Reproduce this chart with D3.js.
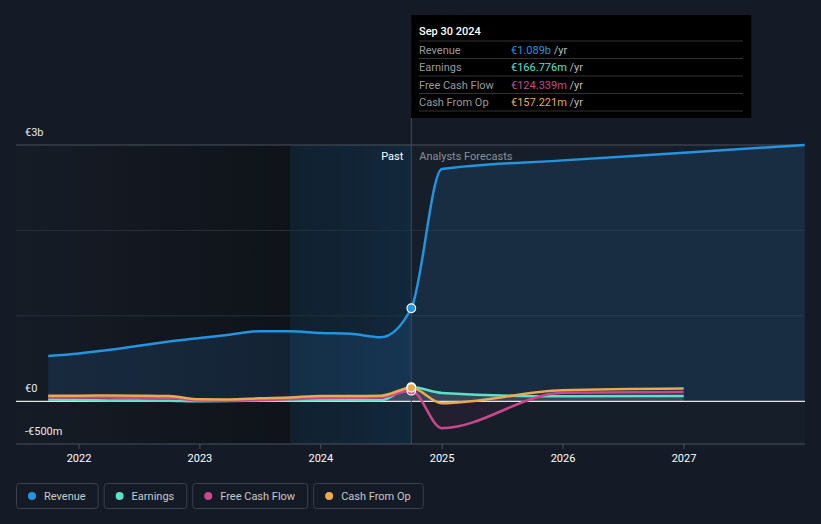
<!DOCTYPE html>
<html><head><meta charset="utf-8">
<script src="https://cdn.jsdelivr.net/npm/d3@7"></script>
<style>
body{margin:0;background:#151b26;font-family:Roboto,"Noto Sans",sans-serif;}
svg{display:block}
</style></head><body>
<svg id="c" width="821" height="524"></svg>
<script>
const pastDates = ["2021-09-30","2021-12-31","2022-03-31","2022-06-30","2022-09-30","2022-12-31","2023-03-31","2023-06-30","2023-09-30","2023-12-31","2024-03-31","2024-06-30","2024-09-30"];
const revenuePast = [0.53,0.56,0.60,0.65,0.70,0.74,0.78,0.82,0.82,0.80,0.79,0.75,1.089];
const earningsPast = [20,15,10,8,5,0,2,8,12,15,15,12,166.776];
const fcfPast = [43,43,45,40,38,8,5,15,25,39,42,45,124.339];
const cfoPast = [66,66,68,66,62,23,22,35,45,62,62,66,157.221];
const revForecastDates = ["2024-09-30","2024-12-31","2025-12-31","2026-12-31","2027-12-31"];
const revenueForecast = [1.089,2.72,2.82,2.91,3.0];
const otherForecastDates = ["2024-09-30","2024-12-31","2025-12-31","2026-12-31"];
const earningsForecast = [166.776,98,58,62];
const fcfForecast = [124.339,-315,99,108];
const cfoForecast = [157.221,-22,128,150];
const yTicks = [{v:3e9,t:"€3b"},{v:0,t:"€0"},{v:-5e8,t:"-€500m"}];
const xTickYears = [2022,2023,2024,2025,2026,2027];
const legendItems = ["Revenue","Earnings","Free Cash Flow","Cash From Op"];
const colors = ["#2394df","#5ce0c8","#c9488c","#e8a951"];
const tipLabels = ["Revenue","Earnings","Free Cash Flow","Cash From Op"];
const tipValues = ["€1.089b","€166.776m","€124.339m","€157.221m"];

const svg = d3.select("#c");
const pd = d3.timeParse("%Y-%m-%d");
const x = d3.scaleTime().domain([new Date(2022,0,1), new Date(2027,0,1)]).range([79,684]);
const y = d3.scaleLinear().domain([-5e8,3e9]).range([444,145]);
const L=16, R=805, T=145, B=444;
const nowX = x(pd("2024-09-30"));
const lyX = x(pd("2023-09-30"));

const defs = svg.append("defs");
const g1 = defs.append("linearGradient").attr("id","pastg").attr("x1","0").attr("x2","1");
g1.append("stop").attr("offset","0").attr("stop-color","#161c26");
g1.append("stop").attr("offset","1").attr("stop-color","#0f1319");
const g2 = defs.append("linearGradient").attr("id","hlg").attr("x1","0").attr("x2","1");
g2.append("stop").attr("offset","0").attr("stop-color","#10202e");
g2.append("stop").attr("offset","1").attr("stop-color","#12283c");

// backgrounds
svg.append("rect").attr("x",L).attr("y",T).attr("width",lyX-L).attr("height",B-T).attr("fill","url(#pastg)");
svg.append("rect").attr("x",lyX).attr("y",T).attr("width",nowX-lyX).attr("height",B-T).attr("fill","url(#hlg)");
svg.append("rect").attr("x",nowX).attr("y",T).attr("width",R-nowX).attr("height",B-T).attr("fill","#161e29");

// grid
[1e9,2e9].forEach(v=>svg.append("line").attr("x1",L).attr("x2",R).attr("y1",y(v)).attr("y2",y(v)).attr("stroke","#26303c").attr("stroke-width",1));
svg.append("line").attr("x1",L).attr("x2",R).attr("y1",y(3e9)).attr("y2",y(3e9)).attr("stroke","#4a515c");

const curve = d3.curveMonotoneX;
const revPts = pastDates.map((d,i)=>({d:pd(d),v:revenuePast[i]*1e9})).concat(revForecastDates.slice(1).map((d,i)=>({d:pd(d),v:revenueForecast[i+1]*1e9})));
const area = d3.area().x(p=>x(p.d)).y0(y(0)).y1(p=>y(p.v)).curve(curve);
const line = d3.line().x(p=>x(p.d)).y(p=>y(p.v)).curve(curve);
svg.append("path").datum(revPts).attr("d",area).attr("fill","#2a7fc4").attr("fill-opacity",0.16);

function mk(vals, fvals){
  return pastDates.map((d,i)=>({d:pd(d),v:vals[i]*1e6})).concat(otherForecastDates.slice(1).map((d,i)=>({d:pd(d),v:fvals[i+1]*1e6})));
}
const series = [mk(earningsPast,earningsForecast), mk(fcfPast,fcfForecast), mk(cfoPast,cfoForecast)];
// fills
svg.append("path").datum(series[0]).attr("d",area).attr("fill","#8a93a0").attr("fill-opacity",0.25);
svg.append("path").datum(series[1]).attr("d",area).attr("fill","#c9488c").attr("fill-opacity",0.07);

// zero line
svg.append("line").attr("x1",L).attr("x2",R).attr("y1",y(0)).attr("y2",y(0)).attr("stroke","#e6e6e6").attr("stroke-width",1.2);

// lines
[series[0],series[1],series[2]].forEach((s,i)=>{
  svg.append("path").datum(s).attr("d",line).attr("fill","none").attr("stroke",colors[i+1]).attr("stroke-width",2.5);
});
svg.append("path").datum(revPts).attr("d",line).attr("fill","none").attr("stroke",colors[0]).attr("stroke-width",2.5);

// now line
svg.append("line").attr("x1",nowX).attr("x2",nowX).attr("y1",118).attr("y2",B).attr("stroke","#3b4b5e").attr("stroke-width",1);

// dots
const nowD = pd("2024-09-30");
[[earningsPast[12]*1e6,1],[fcfPast[12]*1e6,2],[cfoPast[12]*1e6,3],[revenuePast[12]*1e9,0]].forEach(([v,i])=>{
  svg.append("circle").attr("cx",x(nowD)).attr("cy",y(v)).attr("r",4.3).attr("fill",colors[i]).attr("stroke","#fff").attr("stroke-width",1.2);
});

// axis labels y
yTicks.forEach(t=>svg.append("text").attr("x",25).attr("y",y(t.v)-9).attr("fill","#e8e8e8").attr("font-size",11).text(t.t));

// x axis
svg.append("line").attr("x1",L).attr("x2",R).attr("y1",B).attr("y2",B).attr("stroke","#4a515c");
xTickYears.forEach(yr=>{
  const xx = x(new Date(yr,0,1));
  svg.append("line").attr("x1",xx).attr("x2",xx).attr("y1",B).attr("y2",B+5).attr("stroke","#4a515c");
  svg.append("text").attr("x",xx).attr("y",462).attr("text-anchor","middle").attr("fill","#ffffff").attr("font-size",11).text(yr);
});

// past / forecast
svg.append("text").attr("x",nowX-8).attr("y",160).attr("text-anchor","end").attr("fill","#ffffff").attr("font-size",11).text("Past");
svg.append("text").attr("x",nowX+8).attr("y",160).attr("fill","#8b9097").attr("font-size",11).text("Analysts Forecasts");

// tooltip
const tt = svg.append("g");
tt.append("rect").attr("x",nowX).attr("y",15).attr("width",340).attr("height",103).attr("fill","#000");
tt.append("text").attr("x",419).attr("y",35).attr("fill","#fff").attr("font-size",11).attr("font-weight",500).text("Sep 30 2024");
const seps=[41,58.5,76,93.5,111];
seps.forEach(s=>tt.append("line").attr("x1",419).attr("x2",743).attr("y1",s).attr("y2",s).attr("stroke","#333"));
tipLabels.forEach((l,i)=>{
  const by = seps[i]+12.5;
  tt.append("text").attr("x",419).attr("y",by).attr("fill","#9a9a9a").attr("font-size",11).text(l);
  const t = tt.append("text").attr("x",511).attr("y",by).attr("font-size",11);
  t.append("tspan").attr("fill",colors[i]).text(tipValues[i]);
  t.append("tspan").attr("fill","#bbb").text(" /yr");
});

// legend
let lx = 16;
legendItems.forEach((l,i)=>{
  const gg = svg.append("g");
  const txt = gg.append("text").attr("x",lx+28).attr("y",500).attr("fill","#c8c8c8").attr("font-size",11).text(l);
  const w = txt.node().getComputedTextLength()+40;
  gg.insert("rect","text").attr("x",lx+0.5).attr("y",483.5).attr("width",w).attr("height",25).attr("rx",3).attr("fill","#151b26").attr("stroke","#3a414b");
  gg.append("circle").attr("cx",lx+16).attr("cy",496).attr("r",4).attr("fill",colors[i]);
  lx += w+6;
});
</script></body></html>
